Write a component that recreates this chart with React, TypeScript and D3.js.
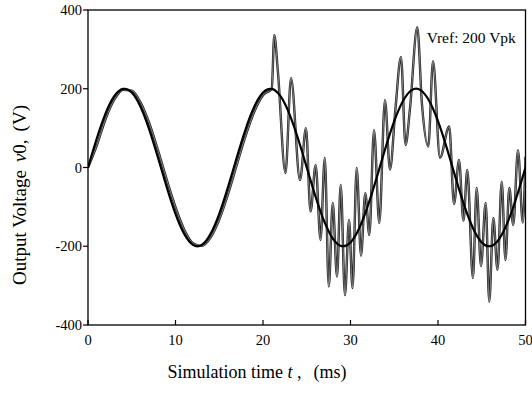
import React from "react";
import * as d3 from "d3";

const refTime = d3.range(0, 51, 1);
const refVolt = [
  0, 73.6, 136.9, 181.0, 199.6, 190.2, 154.1, 96.4, 25.1, -49.7,
  -117.6, -168.9, -196.5, -196.5, -168.9, -117.6, -49.7, 25.1, 96.4, 154.1,
  190.2, 199.6, 181.0, 136.9, 73.6, 0, -73.6, -136.9, -181.0, -199.6,
  -190.2, -154.1, -96.4, -25.1, 49.7, 117.6, 168.9, 196.5, 196.5, 168.9,
  117.6, 49.7, -25.1, -96.4, -154.1, -190.2, -199.6, -181.0, -136.9, -73.6, 0,
];

// Output voltage v0 (ms, V)
const outTime = [
  0, 1, 2, 3, 4, 5, 6, 7, 8, 9, 10, 11, 12, 13, 14, 15, 16, 17, 18, 19, 20, 21,
  21.29, 21.69, 22.57, 23.2, 24.23, 24.91, 25.43, 26.02, 26.57, 27.06, 27.52,
  27.97, 28.46, 28.88, 29.37, 29.83, 30.23, 30.71, 31.2, 31.69, 32.15, 32.69,
  33.29, 33.94, 34.51, 35.14, 35.77, 36.29, 36.8, 37.63, 38.17, 38.89, 39.43,
  40.23, 41.28, 41.83, 42.4, 42.91, 43.35, 43.99, 44.42, 44.91, 45.45, 45.86,
  46.32, 46.8, 47.28, 47.71, 48.15, 48.6, 49.14, 49.69, 50,
];
const outVolt = [
  0, 55.8, 122.6, 172.1, 197.5, 195.2, 165.4, 112.4, 43.6, -31.3, -100.9,
  -158.0, -192.3, -199.1, -178.2, -132.3, -67.9, 6.3, 79.4, 141.4, 183.6, 200,
  336, 247, -14, 227, -32, 100, -112, 6, -184, 24, -302,
  -90, -277, -44, -324, -133, -306, -1, -224, -65, -171, 95,
  -141, 171, -5, 150, 281, 57, 150, 356, 160, 53, 270,
  25, 104, -93, 19, -135, -6, -281, -52, -250, -90, -341,
  -128, -260, -36, -235, -52, -146, 44, -140, 27,
];

const xTicks = [0, 10, 20, 30, 40, 50];
const yTicks = [-400, -200, 0, 200, 400];

const W = 532;
const H = 398;
const left = 88;
const right = 525.5;
const top = 10;
const bottom = 325;
const font = "'Liberation Serif', 'Times New Roman', serif";

export default function App() {
  const x = d3.scaleLinear().domain([0, 50]).range([left, right]);
  const y = d3.scaleLinear().domain([-400, 400]).range([bottom, top]);

  const refLine = d3
    .line<number>()
    .x((_, i) => x(refTime[i]))
    .y((d) => y(d))
    .curve(d3.curveNatural);
  const outLine = d3
    .line<number>()
    .x((_, i) => x(outTime[i]))
    .y((d) => y(d))
    .curve(d3.curveMonotoneX);
  const outD = outLine(outVolt) || "";

  return (
    <svg
      width={W}
      height={H}
      style={{ position: "absolute", left: 0, top: 0, background: "#fff" }}
      fontFamily={font}
    >
      <rect x={0} y={0} width={W} height={H} fill="#fff" />
      <defs>
        <clipPath id="plot">
          <rect x={left} y={top} width={right - left} height={bottom - top} />
        </clipPath>
      </defs>
      <g clipPath="url(#plot)">
        <path d={outD} fill="none" stroke="#222" strokeWidth={2.4} strokeLinejoin="round" />
        <path d={outD} fill="none" stroke="#aaa" strokeWidth={0.7} strokeLinejoin="round" />
        <path d={refLine(refVolt) || ""} fill="none" stroke="#000" strokeWidth={2.2} />
      </g>
      <rect x={left} y={top} width={right - left} height={bottom - top} fill="none" stroke="#000" strokeWidth={1.3} />
      {xTicks.map((t) => (
        <g key={"x" + t}>
          <line x1={x(t)} x2={x(t)} y1={bottom} y2={bottom - 5} stroke="#000" strokeWidth={1.2} />
          <text x={x(t)} y={345} textAnchor="middle" fontSize={14.5}>
            {t}
          </text>
        </g>
      ))}
      {yTicks.map((t) => (
        <g key={"y" + t}>
          <line x1={left - 5} x2={left} y1={y(t)} y2={y(t)} stroke="#000" strokeWidth={1.2} />
          <text x={82} y={y(t)} dy="0.35em" textAnchor="end" fontSize={14.5}>
            {t}
          </text>
        </g>
      ))}
      <text x={426.7} y={43} fontSize={15.5}>
        Vref: 200 Vpk
      </text>
      <text x={257} y={378} textAnchor="middle" fontSize={18}>
        Simulation time <tspan fontStyle="italic">t</tspan>
        <tspan> ,</tspan>
        <tspan dx={12}>(ms)</tspan>
      </text>
      <text transform={`translate(26,195) rotate(-90)`} textAnchor="middle" fontSize={19}>
        Output Voltage
        <tspan dx={8} fontStyle="italic">v</tspan>
        <tspan>0,</tspan>
        <tspan dx={8}>(V)</tspan>
      </text>
    </svg>
  );
}
